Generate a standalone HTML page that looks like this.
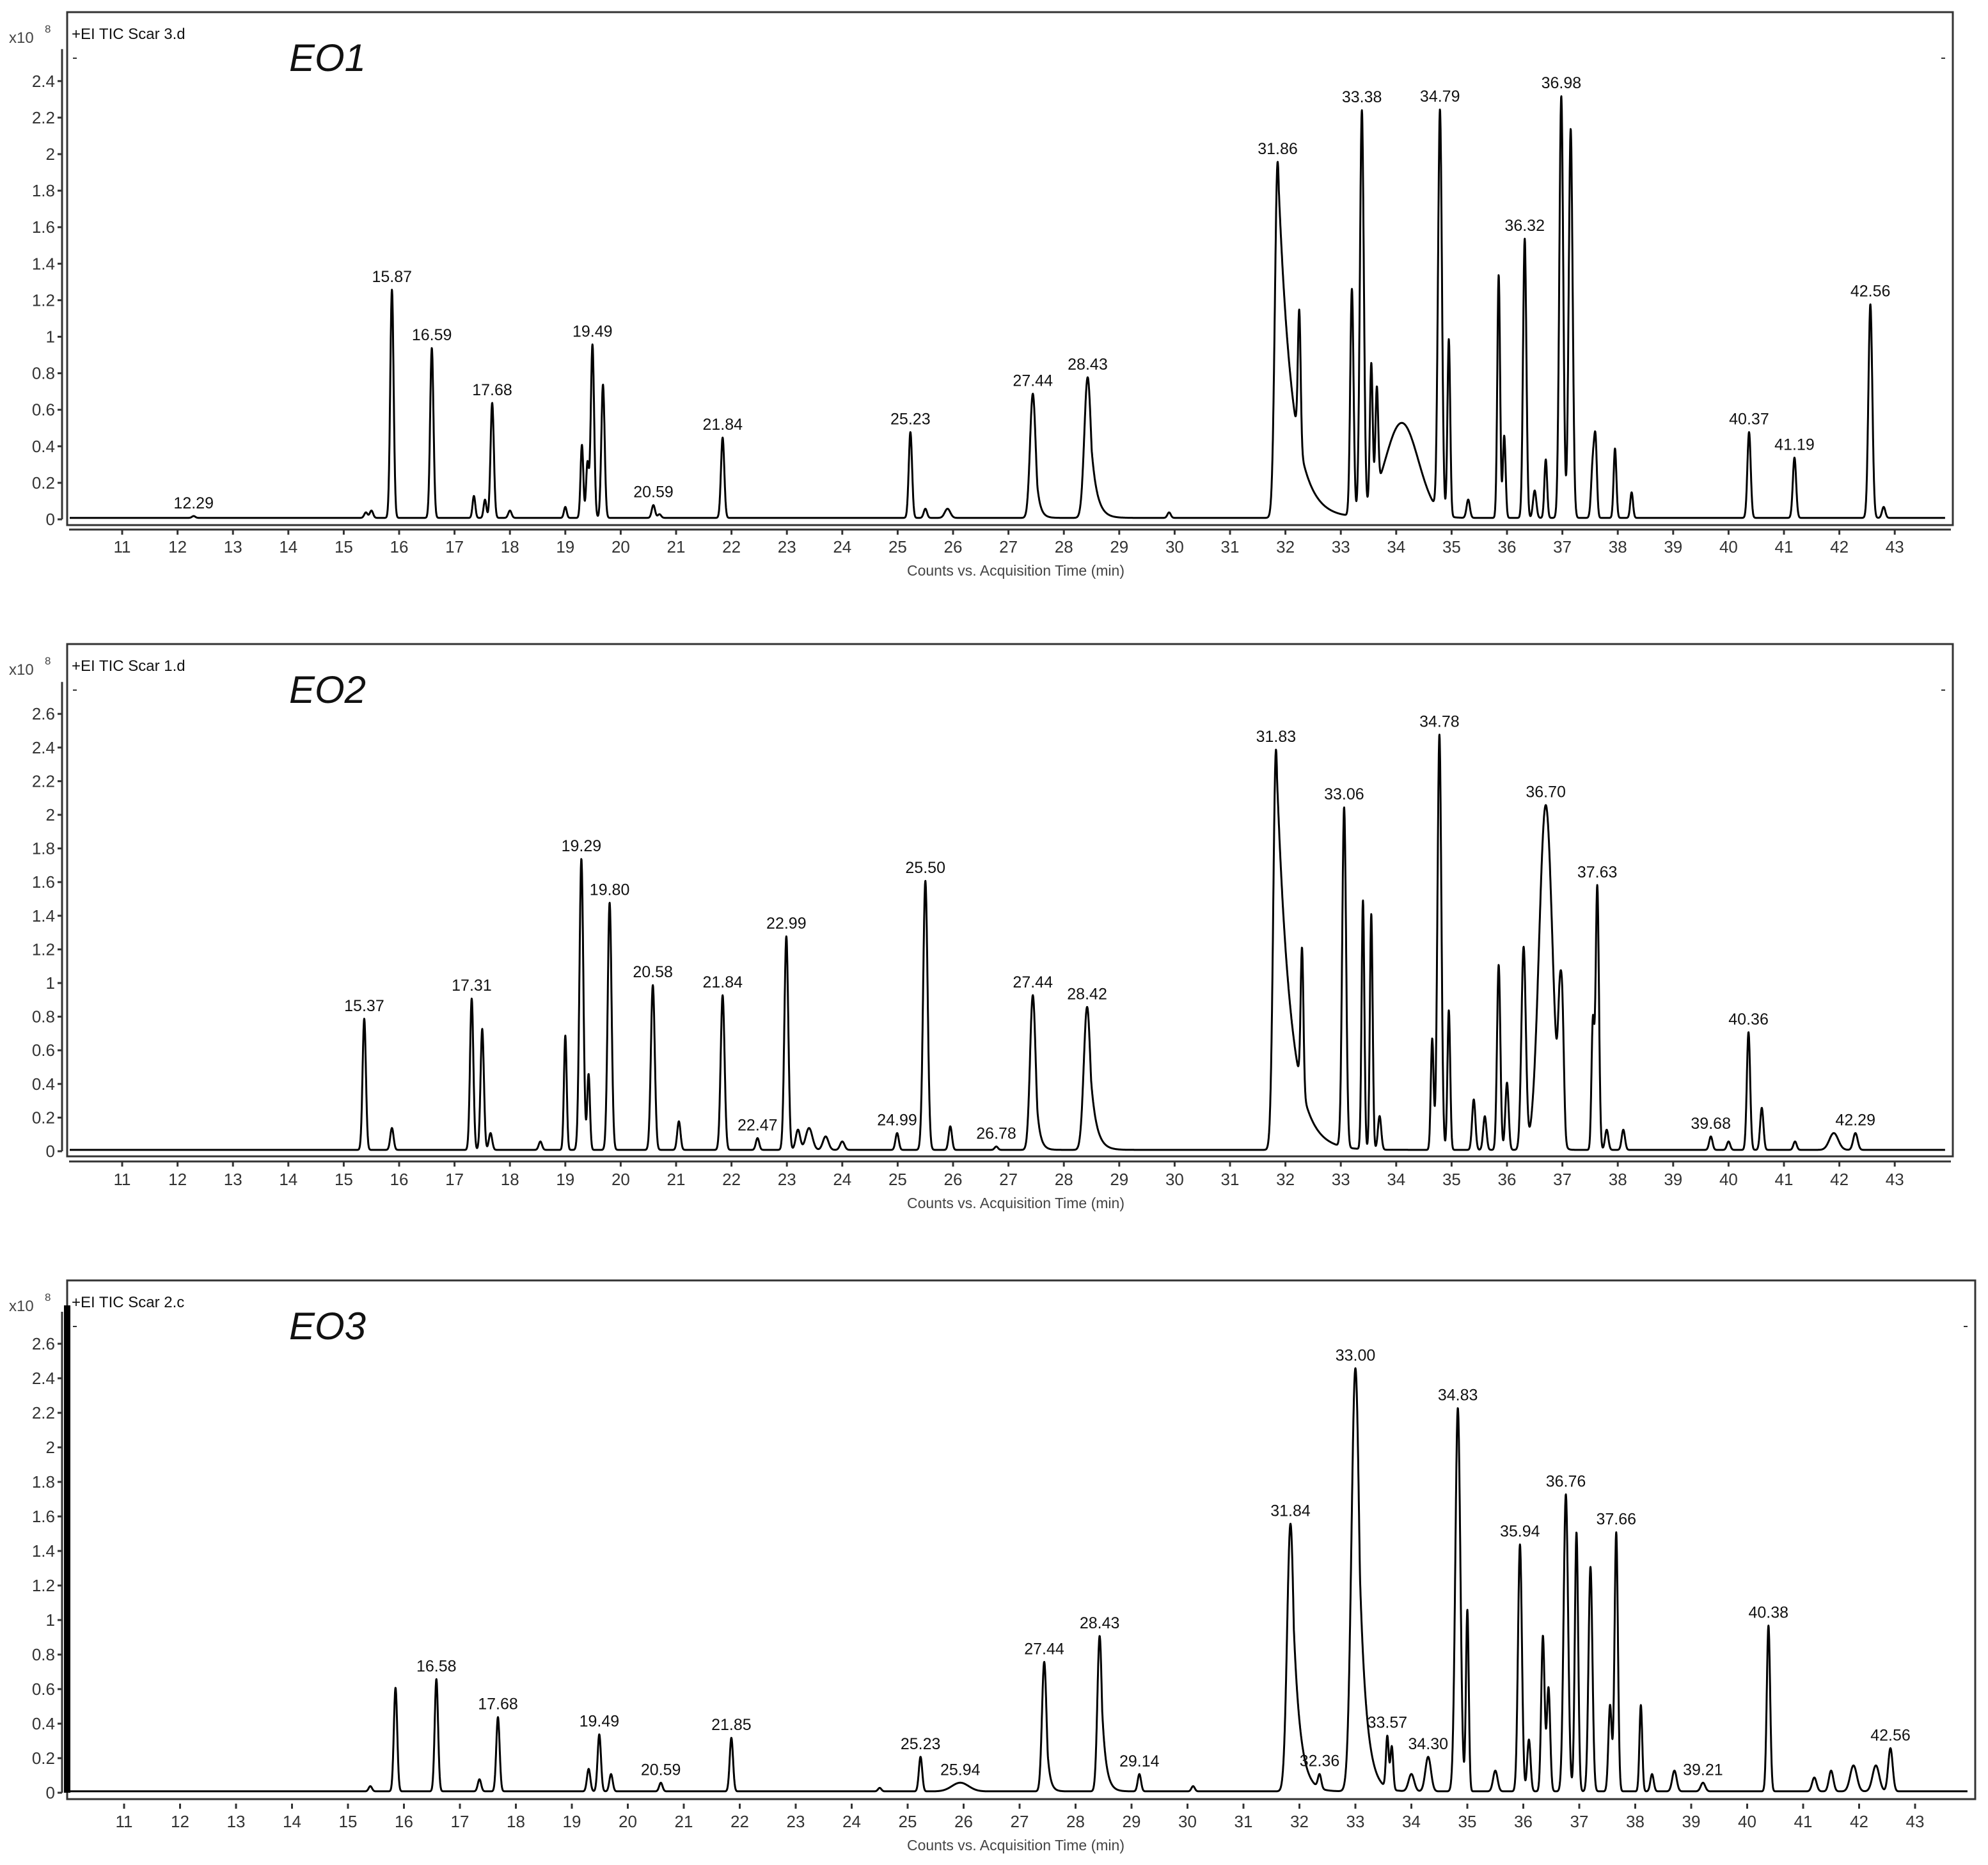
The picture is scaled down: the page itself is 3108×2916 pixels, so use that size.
<!DOCTYPE html>
<html><head><meta charset="utf-8">
<style>
html,body{margin:0;padding:0;background:#fff;}
svg{display:block;font-family:"Liberation Sans",Arial,sans-serif;}
</style></head>
<body>
<svg id="chart" width="3108" height="2916" viewBox="0 0 3108 2916" xmlns="http://www.w3.org/2000/svg">
<rect width="3108" height="2916" fill="#fff"/>
</svg>
<script>
// ---------- EO1 data ----------
const eo1Times   = [12.29,15.4,15.5,15.87,16.59,17.35,17.55,17.68,18.0,19.0,19.3,19.4,19.49,19.68,20.59,20.7,21.84,25.23,25.5,25.9,27.44,28.43,29.9,31.86,32.25,33.2,33.38,33.55,33.65,34.1,34.79,34.95,35.3,35.85,35.95,36.32,36.5,36.7,36.98,37.15,37.55,37.6,37.95,38.25,40.37,41.19,42.56,42.8];
const eo1Heights = [0.01,0.03,0.04,1.25,0.93,0.12,0.10,0.63,0.04,0.06,0.40,0.30,0.95,0.73,0.07,0.02,0.44,0.47,0.05,0.05,0.68,0.77,0.03,1.95,0.73,1.24,2.20,0.75,0.55,0.52,2.20,0.97,0.10,1.33,0.45,1.53,0.15,0.32,2.31,2.13,0.30,0.38,0.38,0.14,0.47,0.33,1.17,0.06];
const eo1Widths  = [0.03,0.03,0.03,0.03,0.03,0.025,0.025,0.03,0.03,0.025,0.025,0.025,0.03,0.03,0.03,0.03,0.03,0.03,0.03,0.05,0.05,0.06,0.03,0.05,0.025,0.03,0.035,0.025,0.025,0.3,0.035,0.025,0.03,0.025,0.025,0.03,0.03,0.025,0.035,0.035,0.03,0.025,0.025,0.025,0.03,0.03,0.035,0.03];
const eo1Tails   = [0,0,0,0,0,0,0,0,0,0,0,0,0,0,0,0,0,0,0,0,0.06,0.1,0,0.25,0,0,0,0,0,0,0,0,0,0,0,0,0,0,0,0,0,0,0,0,0,0,0,0];
const eo1Labels  = ["12.29","15.87","16.59","17.68","19.49","20.59","21.84","25.23","27.44","28.43","31.86","33.38","34.79","36.32","36.98","40.37","41.19","42.56"];
// ---------- EO2 data ----------
const eo2Times   = [15.37,15.87,17.31,17.5,17.65,18.55,19.0,19.29,19.42,19.80,20.58,21.05,21.84,22.47,22.99,23.2,23.4,23.7,24.0,24.99,25.50,25.95,26.78,27.44,28.42,31.83,32.3,33.06,33.4,33.55,33.7,34.65,34.78,34.95,35.4,35.6,35.85,36.0,36.3,36.70,36.95,37.0,37.55,37.63,37.8,38.1,39.68,40.0,40.36,40.6,41.2,41.9,42.29];
const eo2Heights = [0.78,0.13,0.90,0.72,0.10,0.05,0.68,1.73,0.45,1.47,0.98,0.17,0.92,0.07,1.27,0.12,0.13,0.08,0.05,0.10,1.60,0.14,0.02,0.92,0.85,2.38,0.84,2.02,1.48,1.40,0.20,0.66,2.47,0.83,0.30,0.20,1.10,0.40,1.20,2.05,0.60,0.70,0.75,1.57,0.12,0.12,0.08,0.05,0.70,0.25,0.05,0.10,0.10];
const eo2Widths  = [0.03,0.03,0.03,0.03,0.03,0.03,0.025,0.035,0.025,0.035,0.035,0.03,0.035,0.03,0.035,0.04,0.06,0.05,0.04,0.03,0.04,0.03,0.03,0.05,0.06,0.05,0.025,0.035,0.025,0.025,0.03,0.025,0.035,0.025,0.03,0.03,0.03,0.03,0.04,0.12,0.03,0.03,0.025,0.03,0.03,0.03,0.03,0.03,0.03,0.03,0.03,0.08,0.04];
const eo2Tails   = [0,0,0,0,0,0,0,0,0,0,0,0,0,0,0,0,0,0,0,0,0,0,0,0.06,0.1,0.25,0,0,0,0,0,0,0,0,0,0,0,0,0,0,0,0,0,0,0,0,0,0,0,0,0,0,0];
const eo2Labels  = ["15.37","17.31","19.29","19.80","20.58","21.84","22.47","22.99","24.99","25.50","26.78","27.44","28.42","31.83","33.06","34.78","36.70","37.63","39.68","40.36","42.29"];
// ---------- EO3 data ----------
const eo3Times   = [15.4,15.85,16.58,17.35,17.68,19.3,19.49,19.7,20.59,21.85,24.5,25.23,25.94,27.44,28.43,29.14,30.1,31.84,32.36,33.00,33.57,33.65,34.0,34.30,34.83,35.0,35.5,35.94,36.1,36.35,36.45,36.76,36.95,37.2,37.55,37.66,38.1,38.3,38.7,39.21,40.38,41.2,41.5,41.9,42.3,42.56];
const eo3Heights = [0.03,0.60,0.65,0.07,0.43,0.13,0.33,0.10,0.05,0.31,0.02,0.20,0.05,0.75,0.90,0.10,0.03,1.55,0.08,2.45,0.30,0.25,0.10,0.20,2.22,1.05,0.12,1.43,0.30,0.90,0.60,1.72,1.50,1.30,0.50,1.50,0.50,0.10,0.12,0.05,0.96,0.08,0.12,0.15,0.15,0.25];
const eo3Widths  = [0.03,0.03,0.03,0.03,0.03,0.03,0.03,0.03,0.03,0.03,0.03,0.03,0.15,0.04,0.04,0.03,0.03,0.06,0.03,0.07,0.025,0.025,0.05,0.05,0.045,0.025,0.04,0.035,0.03,0.03,0.03,0.04,0.03,0.035,0.03,0.03,0.025,0.03,0.04,0.04,0.03,0.04,0.04,0.06,0.06,0.04];
const eo3Tails   = [0,0,0,0,0,0,0,0,0,0,0,0,0,0.05,0.07,0,0,0.12,0,0.12,0,0,0,0,0,0,0,0,0,0,0,0,0,0,0,0,0,0,0,0,0,0,0,0,0,0];
const eo3Labels  = ["16.58","17.68","19.49","20.59","21.85","25.23","25.94","27.44","28.43","29.14","31.84","32.36","33.00","33.57","34.30","34.83","35.94","36.76","37.66","39.21","40.38","42.56"];

const xTicks = [11,12,13,14,15,16,17,18,19,20,21,22,23,24,25,26,27,28,29,30,31,32,33,34,35,36,37,38,39,40,41,42,43];
const yTicks1 = [0,0.2,0.4,0.6,0.8,1,1.2,1.4,1.6,1.8,2,2.2,2.4];
const yTicks23 = [0,0.2,0.4,0.6,0.8,1,1.2,1.4,1.6,1.8,2,2.2,2.4,2.6];

const NS = "http://www.w3.org/2000/svg";
const svg = document.getElementById('chart');
function mk(tag, attrs, parent){
  const e = document.createElementNS(NS, tag);
  for (const k in attrs) e.setAttribute(k, attrs[k]);
  (parent||svg).appendChild(e);
  return e;
}

function signal(t, times, heights, widths, tails){
  let s = 0.008;
  for (let i=0;i<times.length;i++){
    const d = t - times[i];
    let v;
    if (d <= 0 || !tails[i]) v = heights[i]*Math.exp(-0.5*(d/widths[i])*(d/widths[i]));
    else v = heights[i]*Math.max(Math.exp(-0.5*(d/widths[i])*(d/widths[i])), Math.exp(-d/tails[i]));
    s += v;
  }
  return s;
}

function panel(cfg){
  const g = mk('g', {});
  
  
  const X = t => cfg.x11 + (t-11)*cfg.pxMin;
  const Y = v => cfg.zero - v*cfg.unit;
  // frame
  const fr = mk('rect', {x:cfg.left, y:cfg.top, width:cfg.right-cfg.left, height:cfg.bottom-cfg.top, fill:'none', stroke:'#333', 'stroke-width':3}, g);
  
  
  // y axis
  const ya = mk('g', {}, g);
  
  
  const yTop = Y(cfg.yTicks[cfg.yTicks.length-1]) - 50;
  mk('line', {x1:97, y1:yTop, x2:97, y2:cfg.zero, stroke:'#333', 'stroke-width':3}, ya);
  if (cfg.thickBar) mk('rect', {x:100, y:yTop-10, width:10, height:cfg.zero-yTop+10, fill:'#000'}, ya);
  cfg.yTicks.forEach(v=>{
    mk('line', {x1:90, y1:Y(v), x2:97, y2:Y(v), stroke:'#333', 'stroke-width':3}, ya);
    const tx = mk('text', {x:86, y:Y(v)+9, 'text-anchor':'end', 'font-size':26, fill:'#333'}, ya);
    tx.textContent = String(v);
    
    
  });
  const ex = mk('text', {x:14, y:cfg.top+48, 'font-size':24, fill:'#444'}, g);
  ex.textContent = 'x10';
  
  
  const ex2 = mk('text', {x:70, y:cfg.top+32, 'font-size':17, fill:'#444'}, g);
  ex2.textContent = '8';
  // x axis
  const xa = mk('g', {}, g);
  
  
  if (cfg.axisLine) mk('line', {x1:cfg.left+3, y1:cfg.axisY, x2:cfg.right-3, y2:cfg.axisY, stroke:'#333', 'stroke-width':3}, xa);
  xTicks.forEach(t=>{
    mk('line', {x1:X(t), y1:cfg.axisY, x2:X(t), y2:cfg.axisY+8, stroke:'#333', 'stroke-width':3}, xa);
    const tx = mk('text', {x:X(t), y:cfg.tickY, 'text-anchor':'middle', 'font-size':26, fill:'#333'}, xa);
    tx.textContent = String(t);
    
    
  });
  const xt = mk('text', {x:1588, y:cfg.tickY+36, 'text-anchor':'middle', 'font-size':23, fill:'#444'}, g);
  xt.textContent = 'Counts vs. Acquisition Time (min)';
  
  
  // header + title
  const hd = mk('text', {x:112, y:cfg.top+42, 'font-size':24, fill:'#111'}, g);
  hd.textContent = cfg.header;
  
  
  mk('line', {x1:114, y1:cfg.top+72, x2:120, y2:cfg.top+72, stroke:'#333', 'stroke-width':2}, g);
  mk('line', {x1:cfg.right-18, y1:cfg.top+72, x2:cfg.right-12, y2:cfg.top+72, stroke:'#333', 'stroke-width':2}, g);
  const tt = mk('text', {x:512, y:cfg.top+92, 'text-anchor':'middle', 'font-size':60, 'font-style':'italic', fill:'#111'}, g);
  tt.textContent = cfg.title;
  
  
  // trace
  const tMin = (cfg.left+4-cfg.x11)/cfg.pxMin + 11, tMax = (cfg.right-12-cfg.x11)/cfg.pxMin + 11;
  let d = '';
  for (let t=tMin; t<=tMax; t+=0.004){
    const v = signal(t, cfg.times, cfg.heights, cfg.widths, cfg.tails);
    d += (d?'L':'M') + X(t).toFixed(1) + ' ' + Y(v).toFixed(1);
  }
  const tr = mk('path', {d:d, fill:'none', stroke:'#000', 'stroke-width':3, 'stroke-linejoin':'round'}, g);
  
  
  // labels
  cfg.labels.forEach(lb=>{
    const t = parseFloat(lb);
    let m = 0;
    for (let u=t-0.03; u<=t+0.03; u+=0.005) m = Math.max(m, signal(u, cfg.times, cfg.heights, cfg.widths, cfg.tails));
    const tx = mk('text', {x:X(t), y:Y(m)-12, 'text-anchor':'middle', 'font-size':25, fill:'#111'}, g);
    tx.textContent = lb;
    
    
  });
}

panel({name:'eo1-panel', title:'EO1', header:'+EI TIC Scar 3.d', left:105, right:3053, top:19, bottom:821, zero:812, unit:285.5, x11:191, pxMin:86.6, axisY:828, axisLine:true, tickY:864, yTicks:yTicks1,
  times:eo1Times, heights:eo1Heights, widths:eo1Widths, tails:eo1Tails, labels:eo1Labels});
panel({name:'eo2-panel', title:'EO2', header:'+EI TIC Scar 1.d', left:105, right:3053, top:1007, bottom:1808, zero:1800, unit:263, x11:191, pxMin:86.6, axisY:1816, axisLine:true, tickY:1853, yTicks:yTicks23,
  times:eo2Times, heights:eo2Heights, widths:eo2Widths, tails:eo2Tails, labels:eo2Labels});
panel({name:'eo3-panel', title:'EO3', header:'+EI TIC Scar 2.c', left:105, right:3088, top:2002, bottom:2813, zero:2803, unit:270, x11:194, pxMin:87.5, axisY:2820, axisLine:false, tickY:2857, yTicks:yTicks23, thickBar:true,
  times:eo3Times, heights:eo3Heights, widths:eo3Widths, tails:eo3Tails, labels:eo3Labels});
</script>
</body></html>
